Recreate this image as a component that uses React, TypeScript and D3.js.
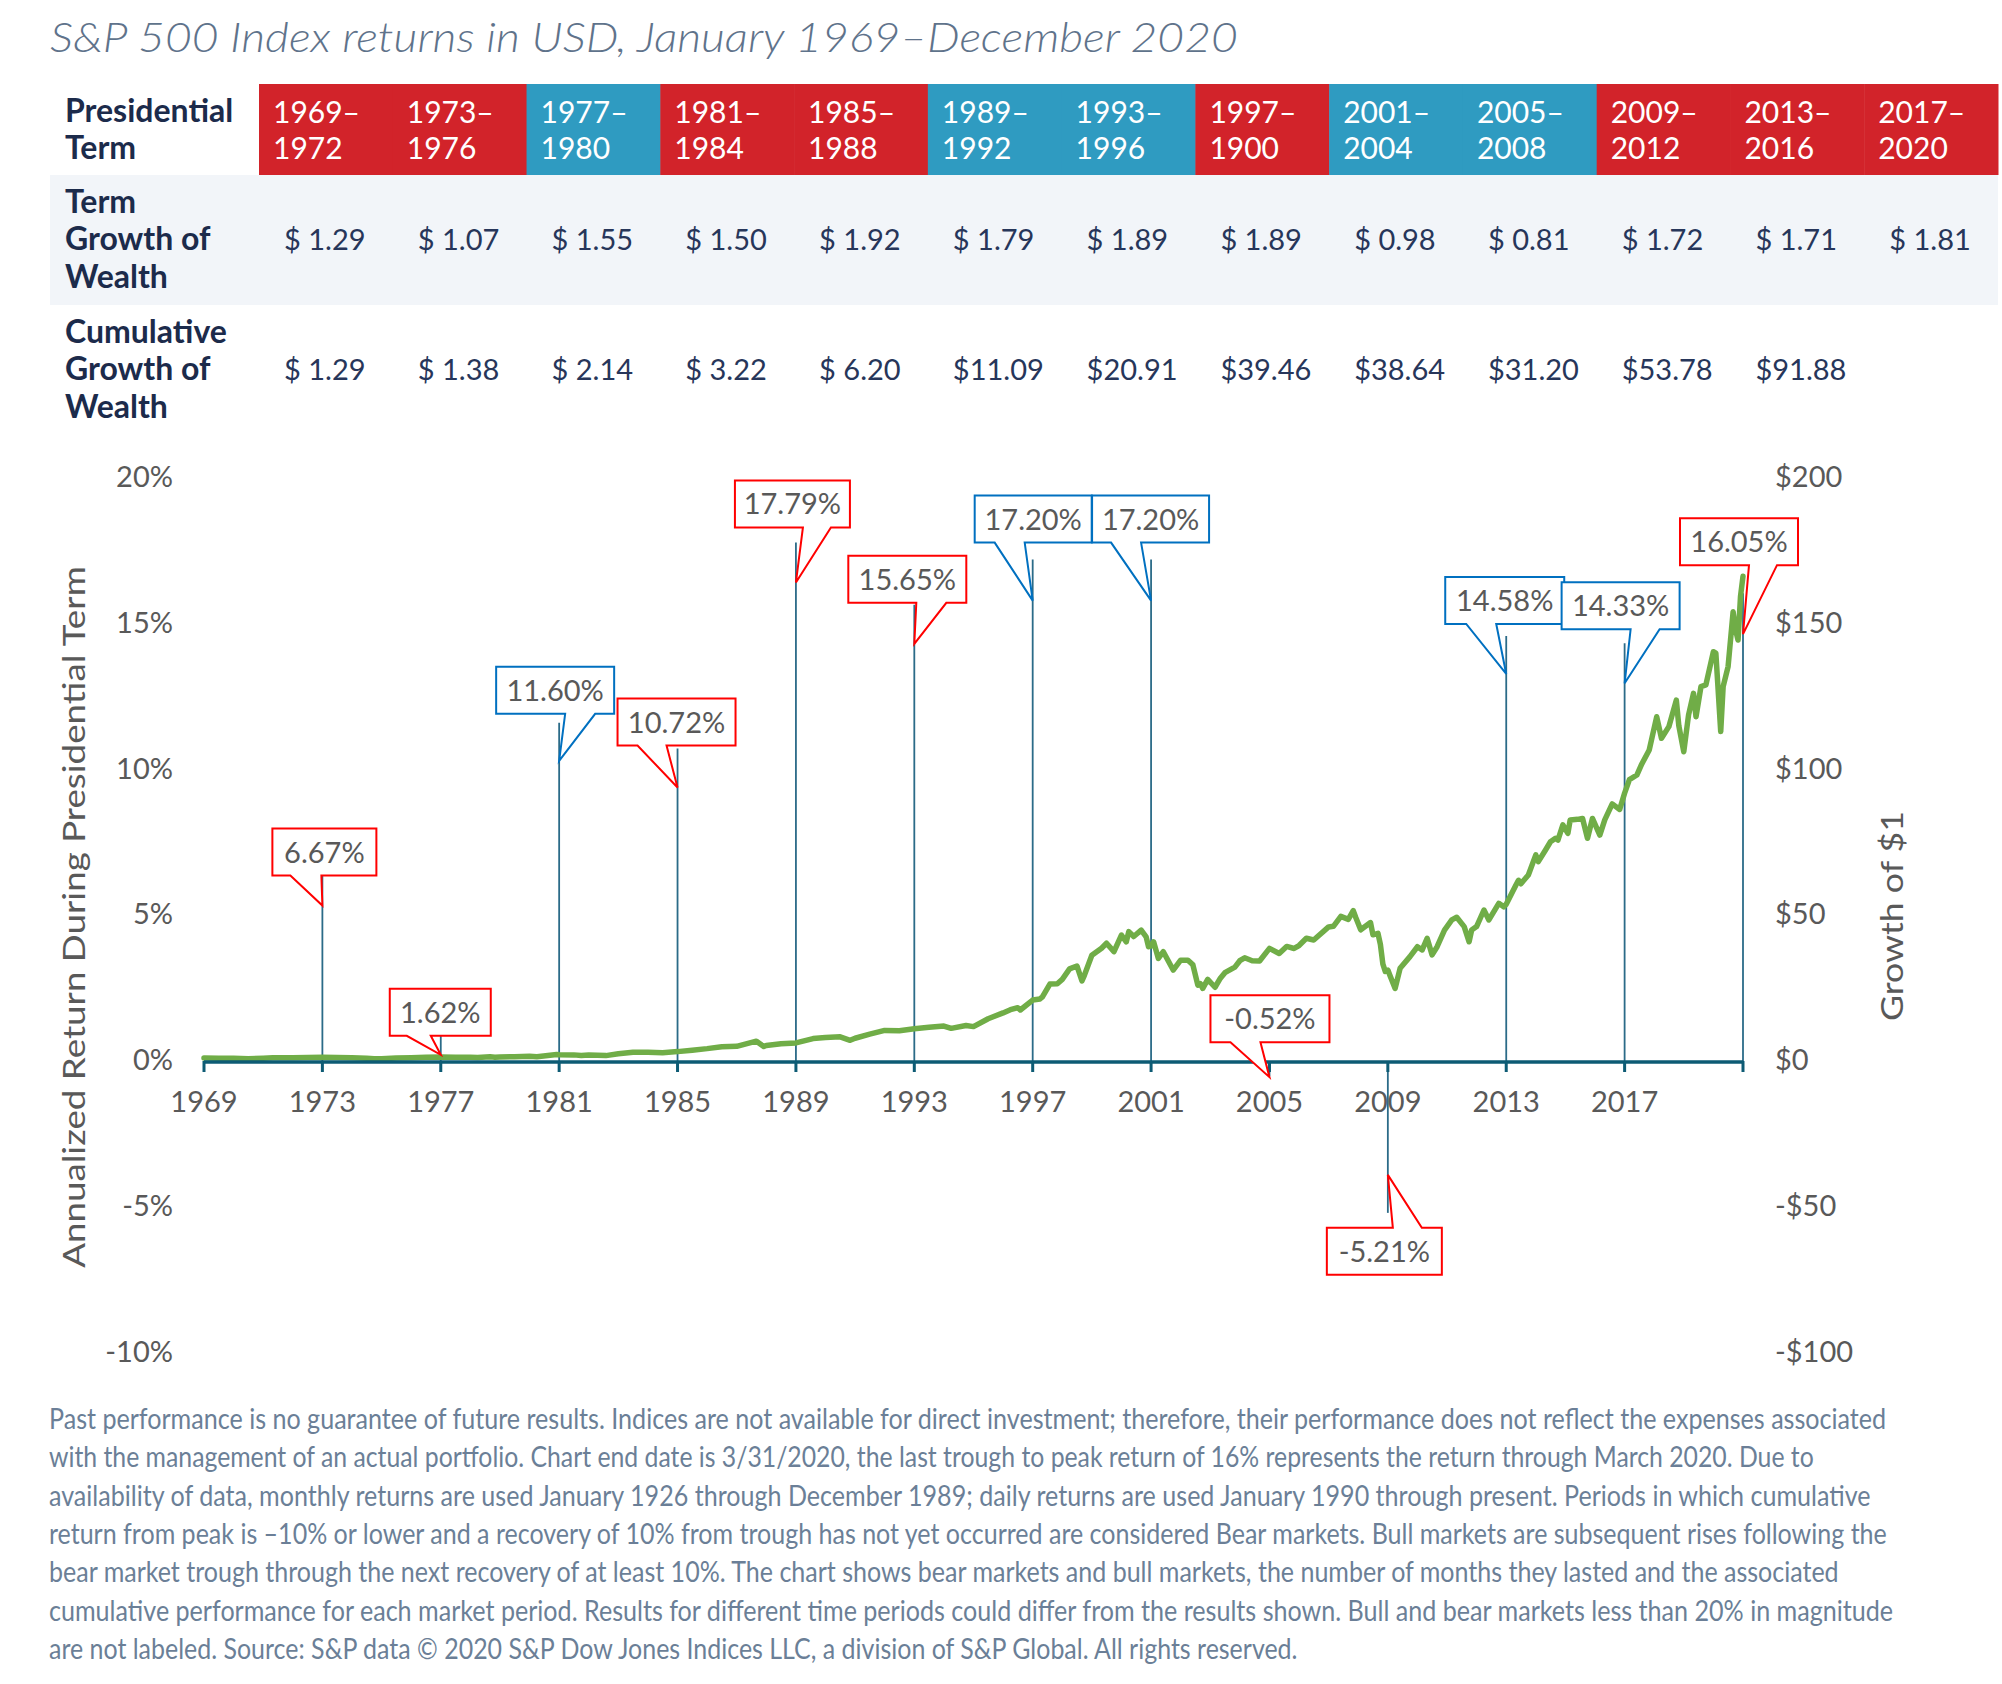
import { useRef, useEffect } from 'react';
import * as d3 from 'd3';

const WIDTH = 2002;
const HEIGHT = 1684;
const FONT = 'Lato, "Open Sans", sans-serif';

// ---- table data ----
const termLabels = ['1969–1972', '1973–1976', '1977–1980', '1981–1984', '1985–1988', '1989–1992', '1993–1996', '1997–1900', '2001–2004', '2005–2008', '2009–2012', '2013–2016', '2017–2020'];
const termParty = ['R', 'R', 'D', 'R', 'R', 'D', 'D', 'R', 'D', 'D', 'R', 'R', 'R'];
const termGrowth = [1.29, 1.07, 1.55, 1.50, 1.92, 1.79, 1.89, 1.89, 0.98, 0.81, 1.72, 1.71, 1.81];
const cumulativeGrowth = [1.29, 1.38, 2.14, 3.22, 6.20, 11.09, 20.91, 39.46, 38.64, 31.20, 53.78, 91.88];

// ---- annualized return per presidential term (plotted at term end) ----
const returnYears = [1973, 1977, 1981, 1985, 1989, 1993, 1997, 2001, 2005, 2009, 2013, 2017, 2021];
const returnValues = [6.67, 1.62, 11.60, 10.72, 17.79, 15.65, 17.20, 17.20, -0.52, -5.21, 14.58, 14.33, 16.05];
const returnParty = ['R', 'R', 'D', 'R', 'R', 'R', 'D', 'D', 'R', 'R', 'D', 'D', 'R'];

// ---- growth of $1 (month end) ----
const growthMonths = [
  '1968-12', '1969-06', '1969-12', '1970-06', '1970-12', '1971-04', '1971-12', '1972-06', '1972-12',
  '1973-06', '1973-12', '1974-06', '1974-09', '1974-12', '1975-06', '1975-12', '1976-06', '1976-12',
  '1977-06', '1977-12', '1978-03', '1978-08', '1978-10', '1978-12', '1979-06', '1979-12', '1980-03',
  '1980-11', '1980-12', '1981-06', '1981-09', '1981-12', '1982-07', '1982-12', '1983-06', '1983-12',
  '1984-06', '1984-12', '1985-06', '1985-12', '1986-06', '1986-12', '1987-08', '1987-11', '1987-12',
  '1988-06', '1988-12', '1989-07', '1989-12', '1990-06', '1990-10', '1990-12', '1991-06', '1991-12',
  '1992-06', '1992-12', '1993-06', '1993-12', '1994-03', '1994-09', '1994-12', '1995-06', '1995-12',
  '1996-03', '1996-06', '1996-07', '1996-12', '1997-03', '1997-04', '1997-07', '1997-10', '1997-12',
  '1998-03', '1998-06', '1998-08', '1998-09', '1998-12', '1999-04', '1999-06', '1999-09', '1999-12',
  '2000-02', '2000-03', '2000-05', '2000-08', '2000-10', '2000-11', '2000-12', '2001-01', '2001-03',
  '2001-05', '2001-09', '2001-12', '2002-03', '2002-05', '2002-07', '2002-08', '2002-09', '2002-11',
  '2003-02', '2003-04', '2003-06', '2003-10', '2003-12', '2004-02', '2004-05', '2004-08', '2004-12',
  '2005-04', '2005-07', '2005-10', '2005-12', '2006-03', '2006-06', '2006-12', '2007-02', '2007-05',
  '2007-08', '2007-10', '2007-11', '2008-01', '2008-05', '2008-06', '2008-08', '2008-09', '2008-10',
  '2008-11', '2008-12', '2009-01', '2009-03', '2009-05', '2009-09', '2009-12', '2010-02', '2010-04',
  '2010-06', '2010-08', '2010-11', '2011-02', '2011-04', '2011-07', '2011-09', '2011-10', '2011-12',
  '2012-03', '2012-05', '2012-09', '2012-11', '2012-12', '2013-04', '2013-05', '2013-06', '2013-09',
  '2013-12', '2014-01', '2014-04', '2014-06', '2014-08', '2014-09', '2014-11', '2015-01', '2015-02',
  '2015-05', '2015-07', '2015-09', '2015-11', '2016-02', '2016-04', '2016-07', '2016-10', '2016-12',
  '2017-02', '2017-05', '2017-07', '2017-10', '2018-01', '2018-03', '2018-06', '2018-09', '2018-10',
  '2018-12', '2019-02', '2019-04', '2019-05', '2019-07', '2019-09', '2019-12', '2020-01', '2020-03',
  '2020-04', '2020-06', '2020-08', '2020-09', '2020-10', '2020-11', '2020-12',
];
const growthValues = [
  1.00, 0.94, 0.91, 0.78, 0.95, 1.08, 1.10, 1.16, 1.29,
  1.18, 1.10, 0.95, 0.76, 0.81, 1.07, 1.11, 1.26, 1.38,
  1.32, 1.28, 1.22, 1.42, 1.32, 1.36, 1.50, 1.61, 1.48,
  2.20, 2.14, 2.10, 1.91, 2.03, 1.85, 2.47, 3.00, 3.03,
  2.86, 3.22, 3.70, 4.24, 4.90, 5.03, 6.80, 4.95, 5.30,
  5.90, 6.20, 7.70, 8.10, 8.30, 7.10, 7.80, 9.20, 10.50,
  10.40, 11.09, 11.6, 12.0, 11.2, 12.2, 11.8, 14.5, 16.5,
  17.6, 18.3, 17.5, 20.91, 21.3, 22.0, 26.4, 26.5, 28.0,
  31.6, 32.6, 27.5, 29.4, 36.3, 38.7, 40.4, 37.5, 43.2,
  40.9, 44.4, 42.7, 44.9, 42.6, 39.2, 39.46, 40.9, 35.2,
  37.5, 31.2, 34.6, 34.6, 33.0, 26.0, 26.5, 24.9, 28.0,
  25.3, 28.2, 30.3, 32.2, 34.4, 35.4, 34.4, 34.3, 38.64,
  36.9, 39.3, 38.6, 39.6, 42.1, 41.5, 46.0, 46.2, 49.6,
  48.6, 51.6, 49.3, 45.0, 47.5, 43.3, 43.8, 40.0, 33.2,
  30.7, 31.20, 29.0, 24.9, 31.8, 35.8, 39.2, 38.1, 42.1,
  36.4, 39.2, 44.9, 48.4, 49.3, 46.1, 40.9, 44.9, 46.1,
  51.8, 48.4, 54.1, 52.9, 53.78, 60.4, 62.0, 60.8, 63.8,
  70.7, 68.4, 72.4, 75.2, 76.4, 75.8, 81.0, 78.1, 82.7,
  82.9, 83.2, 76.4, 83.2, 77.5, 82.7, 88.2, 86.3, 91.88,
  96.5, 98.1, 101.9, 106.7, 118.1, 110.7, 114.7, 123.8, 115.0,
  106.1, 118.7, 126.1, 118.1, 128.4, 129.0, 140.4, 139.9, 113.0,
  128.4, 135.3, 154.1, 148.0, 144.4, 159.3, 166.3,
];

const leftTicks = [20, 15, 10, 5, 0, -5, -10];
const rightTicks = [200, 150, 100, 50, 0, -50, -100];
const yearTicks = [1969, 1973, 1977, 1981, 1985, 1989, 1993, 1997, 2001, 2005, 2009, 2013, 2017, 2021];

const footnoteLines = [
  'Past performance is no guarantee of future results. Indices are not available for direct investment; therefore, their performance does not reflect the expenses associated',
  'with the management of an actual portfolio. Chart end date is 3/31/2020, the last trough to peak return of 16% represents the return through March 2020. Due to',
  'availability of data, monthly returns are used January 1926 through December 1989; daily returns are used January 1990 through present. Periods in which cumulative',
  'return from peak is –10% or lower and a recovery of 10% from trough has not yet occurred are considered Bear markets. Bull markets are subsequent rises following the',
  'bear market trough through the next recovery of at least 10%. The chart shows bear markets and bull markets, the number of months they lasted and the associated',
  'cumulative performance for each market period. Results for different time periods could differ from the results shown. Bull and bear markets less than 20% in magnitude',
  'are not labeled. Source: S&P data © 2020 S&P Dow Jones Indices LLC, a division of S&P Global. All rights reserved.',
];
const footnoteWidths = [1838, 1765, 1822, 1838, 1790, 1845, 1249];

// callout placement relative to the bar end: box left/top offset, box width, wedge base, tip offset
const calloutLayout = [
  { dx: -50, dy: -38, w: 104, wedge: [-32, -1], tip: 39 },
  { dx: -51, dy: -25, w: 101, wedge: [-34, -10], tip: 41 },
  { dx: -63, dy: -56, w: 118, wedge: [6, 36], tip: 38 },
  { dx: -60, dy: -50, w: 118, wedge: [-40, -11], tip: 39 },
  { dx: -61, dy: -62, w: 115, wedge: [7, 35], tip: 40 },
  { dx: -66, dy: -49, w: 118, wedge: [2, 32], tip: 39 },
  { dx: -58, dy: -64, w: 117, wedge: [-38, -8], tip: 41 },
  { dx: -59, dy: -64, w: 117, wedge: [-40, -10], tip: 41 },
  { dx: -59, dy: -81, w: 119, wedge: [-39, -9], tip: 1 },
  { dx: -61, dy: 15, w: 115, wedge: [5, 34], tip: -38 },
  { dx: -61, dy: -59, w: 119, wedge: [-40, -10], tip: 38 },
  { dx: -63, dy: -61, w: 118, wedge: [6, 35], tip: 40 },
  { dx: -63, dy: -75, w: 118, wedge: [6, 34], tip: 41 },
];

const RED = '#d2232a';
const BLUE = '#2f9bc1';
const NAVY = '#1c2b4b';

type TextSel = d3.Selection<SVGTextElement, unknown, null, undefined>;

// squeeze a text horizontally to a given width (the original uses a condensed face)
function fitText(sel: TextSel, base: string, target: number) {
  const node = sel.node();
  const w = node ? node.getComputedTextLength() : 0;
  const s = w > 0 ? target / w : 1;
  sel.attr('transform', `${base} scale(${s},1)`);
}

export default function App() {
  const svgRef = useRef<SVGSVGElement | null>(null);

  useEffect(() => {
    const svg = d3.select(svgRef.current);
    svg.selectAll('*').remove();

    svg.append('rect').attr('width', WIDTH).attr('height', HEIGHT).attr('fill', '#fff');

    // title
    const title = svg.append('text')
      .attr('font-family', FONT).attr('font-weight', 300).attr('font-style', 'italic')
      .attr('font-size', 42).attr('fill', '#5f738b')
      .text('S&P 500 Index returns in USD, January 1969–December 2020');
    fitText(title, 'translate(50,52)', 1188);

    // ---------- table ----------
    const col = d3.scaleBand<string>().domain(termLabels).range([259, 1998]).padding(0);

    svg.append('rect').attr('x', 50).attr('y', 175).attr('width', 1948).attr('height', 130).attr('fill', '#f2f5f9');

    const header = svg.append('g');
    termLabels.forEach((t, i) => {
      const x = col(t)!;
      header.append('rect')
        .attr('x', x).attr('y', 84).attr('width', col.bandwidth() + 0.5).attr('height', 91)
        .attr('fill', termParty[i] === 'R' ? RED : BLUE);
      const [a, b] = t.split('–');
      header.append('text').attr('x', x + 14).attr('y', 123)
        .attr('font-family', FONT).attr('font-size', 30).attr('fill', '#fff').text(`${a}–`);
      header.append('text').attr('x', x + 14).attr('y', 159)
        .attr('font-family', FONT).attr('font-size', 30).attr('fill', '#fff').text(b);
    });

    const rowLabels: [string, number][] = [
      ['Presidential', 122], ['Term', 159],
      ['Term', 213], ['Growth of', 250], ['Wealth', 288],
      ['Cumulative', 343], ['Growth of', 380], ['Wealth', 418],
    ];
    rowLabels.forEach(([t, y]) => {
      svg.append('text').attr('x', 65).attr('y', y)
        .attr('font-family', FONT).attr('font-weight', 700).attr('font-size', 32)
        .attr('fill', NAVY).text(t);
    });

    const money = (v: number) => (v < 10 ? `$ ${v.toFixed(2)}` : `$${v.toFixed(2)}`);
    termGrowth.forEach((v, i) => {
      svg.append('text').attr('x', col(termLabels[i])! + 25).attr('y', 250)
        .attr('font-family', FONT).attr('font-size', 29).attr('fill', '#27365a').text(money(v));
    });
    cumulativeGrowth.forEach((v, i) => {
      svg.append('text').attr('x', col(termLabels[i])! + 25).attr('y', 380)
        .attr('font-family', FONT).attr('font-size', 29).attr('fill', '#27365a').text(money(v));
    });

    // ---------- chart ----------
    const x = d3.scaleTime()
      .domain([new Date(1969, 0, 1), new Date(2021, 0, 1)])
      .range([204, 1743]);
    const yL = d3.scaleLinear().domain([-10, 20]).range([1352.5, 478]);
    const yR = d3.scaleLinear().domain([-100, 200]).range([1352.5, 478]);

    // left ticks
    leftTicks.forEach((v) => {
      svg.append('text').attr('x', 173).attr('y', yL(v) + 9)
        .attr('text-anchor', 'end').attr('font-family', FONT).attr('font-size', 29)
        .attr('fill', '#595959').text(`${v}%`);
    });
    // right ticks
    rightTicks.forEach((v) => {
      svg.append('text').attr('x', 1775).attr('y', yR(v) + 9)
        .attr('font-family', FONT).attr('font-size', 29)
        .attr('fill', '#595959').text(v < 0 ? `-$${-v}` : `$${v}`);
    });

    // axis titles
    const leftTitle = svg.append('text')
      .attr('text-anchor', 'middle').attr('font-family', FONT).attr('font-size', 30)
      .attr('fill', '#595959')
      .text('Annualized Return During Presidential Term');
    fitText(leftTitle, 'translate(85,917) rotate(-90)', 702);
    const rightTitle = svg.append('text')
      .attr('text-anchor', 'middle').attr('font-family', FONT).attr('font-size', 30)
      .attr('fill', '#595959')
      .text('Growth of $1');
    fitText(rightTitle, 'translate(1903,916) rotate(-90)', 210);

    // annualized return bars
    const y0 = yL(0);
    returnYears.forEach((yr, i) => {
      const px = x(new Date(yr, 0, 1));
      svg.append('line')
        .attr('x1', px).attr('x2', px).attr('y1', y0).attr('y2', yL(returnValues[i]))
        .attr('stroke', '#2b6b88').attr('stroke-width', 1.8);
    });

    // growth of $1 line
    const parse = d3.timeParse('%Y-%m');
    const pts: [Date, number][] = growthMonths.map((m, i) => [d3.timeMonth.offset(parse(m)!, 1), growthValues[i]]);
    const line = d3.line<[Date, number]>().x((d) => x(d[0])).y((d) => yR(d[1]));
    svg.append('path')
      .attr('d', line(pts))
      .attr('fill', 'none').attr('stroke', '#70ad47').attr('stroke-width', 5.5)
      .attr('stroke-linejoin', 'round').attr('stroke-linecap', 'round');

    // x axis
    svg.append('line')
      .attr('x1', x.range()[0]).attr('x2', x.range()[1]).attr('y1', y0 + 1).attr('y2', y0 + 1)
      .attr('stroke', '#0d5b74').attr('stroke-width', 3.5);
    yearTicks.forEach((yr) => {
      const px = x(new Date(yr, 0, 1));
      svg.append('line').attr('x1', px).attr('x2', px).attr('y1', y0).attr('y2', y0 + 11)
        .attr('stroke', '#0d5b74').attr('stroke-width', 3);
      if (yr < 2021) {
        svg.append('text').attr('x', px).attr('y', 1112)
          .attr('text-anchor', 'middle').attr('font-family', FONT).attr('font-size', 29)
          .attr('fill', '#595959').text(String(yr));
      }
    });

    // callouts
    returnYears.forEach((yr, i) => {
      const px = x(new Date(yr, 0, 1));
      const py = yL(returnValues[i]);
      const L = calloutLayout[i];
      const color = returnParty[i] === 'R' ? '#ff0000' : '#0070c0';
      const left = px + L.dx;
      const top = py + L.dy;
      const right = left + L.w;
      const bottom = top + 47;
      const tipY = py + L.tip;
      let d: string;
      if (L.tip > 0) {
        d = `M${left},${top}H${right}V${bottom}H${px + L.wedge[1]}L${px},${tipY}L${px + L.wedge[0]},${bottom}H${left}Z`;
      } else {
        d = `M${left},${top}H${px + L.wedge[0]}L${px},${tipY}L${px + L.wedge[1]},${top}H${right}V${bottom}H${left}Z`;
      }
      svg.append('path').attr('d', d).attr('fill', '#fff').attr('stroke', color).attr('stroke-width', 2);
      const v = returnValues[i];
      svg.append('text')
        .attr('x', left + L.w / 2).attr('y', top + 34)
        .attr('text-anchor', 'middle').attr('font-family', FONT).attr('font-size', 29)
        .attr('fill', '#595959').text(`${v < 0 ? '-' : ''}${Math.abs(v).toFixed(2)}%`);
    });

    // footnote
    footnoteLines.forEach((t, i) => {
      const ft = svg.append('text')
        .attr('font-family', FONT).attr('font-size', 28).attr('fill', '#6b7f97')
        .text(t);
      fitText(ft, `translate(49,${1429 + i * 38.3})`, footnoteWidths[i]);
    });
  }, []);

  return (
    <svg
      ref={svgRef}
      width={WIDTH}
      height={HEIGHT}
      style={{ position: 'absolute', left: 0, top: 0 }}
    />
  );
}
